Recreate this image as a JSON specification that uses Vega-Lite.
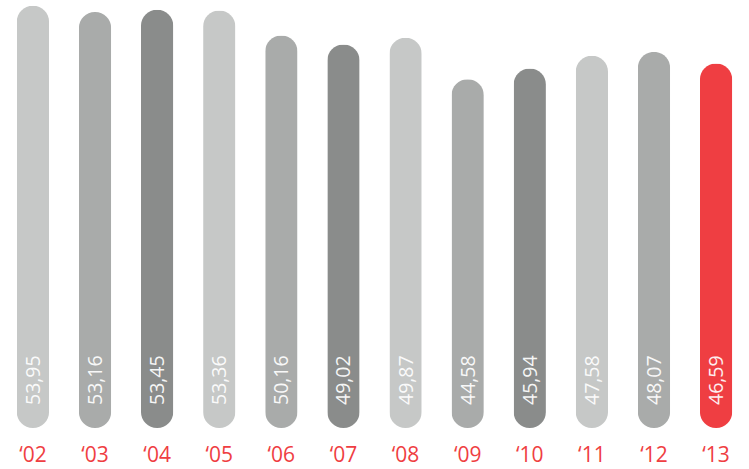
{
  "$schema": "https://vega.github.io/schema/vega-lite/v6.json",
  "width": 749,
  "height": 428,
  "padding": 0,
  "autosize": {"type": "pad"},
  "background": "white",
  "config": {"view": {"stroke": null}, "font": "Open Sans"},
  "data": {
    "values": [
      {"year": "‘02", "value": 53.95, "label": "53,95"},
      {"year": "‘03", "value": 53.16, "label": "53,16"},
      {"year": "‘04", "value": 53.45, "label": "53,45"},
      {"year": "‘05", "value": 53.36, "label": "53,36"},
      {"year": "‘06", "value": 50.16, "label": "50,16"},
      {"year": "‘07", "value": 49.02, "label": "49,02"},
      {"year": "‘08", "value": 49.87, "label": "49,87"},
      {"year": "‘09", "value": 44.58, "label": "44,58"},
      {"year": "‘10", "value": 45.94, "label": "45,94"},
      {"year": "‘11", "value": 47.58, "label": "47,58"},
      {"year": "‘12", "value": 48.07, "label": "48,07"},
      {"year": "‘13", "value": 46.59, "label": "46,59"}
    ]
  },
  "encoding": {
    "x": {
      "field": "year",
      "type": "nominal",
      "sort": null,
      "scale": {"paddingInner": 0.48, "paddingOuter": 0.27},
      "axis": {
        "title": null,
        "domain": false,
        "ticks": false,
        "labelAngle": 0,
        "labelColor": "#ef3e42",
        "labelFont": "Open Sans",
        "labelFontSize": 21,
        "labelBaseline": "bottom",
        "labelPadding": 37
      }
    }
  },
  "layer": [
    {
      "mark": {"type": "bar", "cornerRadius": 16},
      "encoding": {
        "y": {"field": "value", "type": "quantitative", "scale": {"domain": [0, 54.7], "nice": false, "zero": true}, "axis": null},
        "color": {
          "field": "year",
          "type": "nominal",
          "sort": null,
          "legend": null,
          "scale": {
            "domain": ["‘02", "‘03", "‘04", "‘05", "‘06", "‘07", "‘08", "‘09", "‘10", "‘11", "‘12", "‘13"],
            "range": ["#c6c8c7", "#a9abaa", "#8a8c8b", "#c6c8c7", "#a9abaa", "#8a8c8b", "#c6c8c7", "#a9abaa", "#8a8c8b", "#c6c8c7", "#a9abaa", "#ef3e42"]
          }
        }
      }
    },
    {
      "mark": {"type": "text", "angle": 270, "align": "left", "baseline": "middle", "dx": 23, "dy": 1, "color": "white", "opacity": 0.92, "font": "Open Sans", "fontSize": 19.5},
      "encoding": {
        "y": {"datum": 0, "type": "quantitative"},
        "text": {"field": "label"}
      }
    }
  ]
}
